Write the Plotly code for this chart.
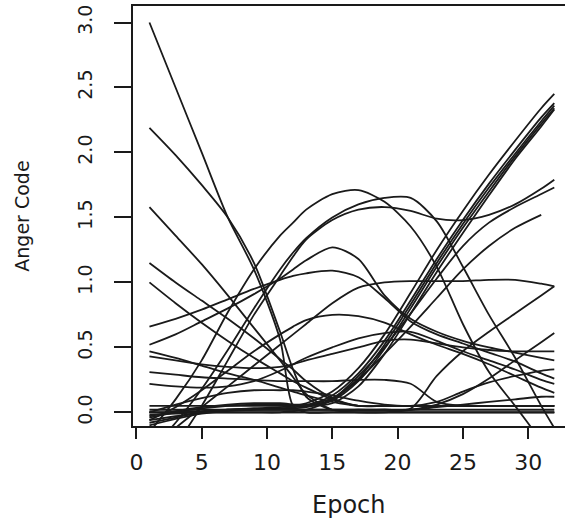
import plotly.graph_objects as go

# knots (Epoch) at which each subject's smoothed anger curve was read
EPOCHS = [1, 3, 5, 7, 9, 11, 12, 13, 15, 17, 19, 21, 23, 25, 27, 29, 31, 32]

s01 = [3.00, 2.50, 2.00, 1.50, 1.10, 0.56, 0.05, 0.00, 0.00, 0.00, 0.00, 0.00, 0.00, 0.00, 0.00, 0.00, 0.00, 0.00]
s02 = [2.19, 1.98, 1.75, 1.50, 1.15, 0.62, 0.33, 0.12, 0.02, 0.02, 0.02, 0.02, 0.02, 0.02, 0.02, 0.02, 0.02, 0.02]
s03 = [1.58, 1.36, 1.14, 0.90, 0.65, 0.40, 0.27, 0.14, 0.02, 0.00, 0.00, 0.00, 0.00, 0.00, 0.00, 0.00, 0.00, 0.00]
s04 = [1.15, 1.00, 0.86, 0.72, 0.57, 0.41, 0.33, 0.24, 0.11, 0.05, 0.05, 0.05, 0.05, 0.05, 0.05, 0.05, 0.05, 0.05]
s05 = [1.00, 0.84, 0.69, 0.55, 0.42, 0.30, 0.24, 0.19, 0.10, 0.05, 0.05, 0.05, 0.05, 0.05, 0.05, 0.05, 0.05, 0.05]
s06 = [0.66, 0.72, 0.79, 0.87, 0.95, 1.02, 1.05, 1.07, 1.09, 1.04, 0.88, 0.70, 0.60, 0.53, 0.46, 0.39, 0.30, 0.26]
s07 = [0.52, 0.60, 0.70, 0.80, 0.91, 1.03, 1.10, 1.17, 1.27, 1.18, 0.90, 0.72, 0.62, 0.55, 0.50, 0.46, 0.42, 0.40]
s08 = [-0.06, 0.04, 0.17, 0.32, 0.47, 0.60, 0.66, 0.71, 0.75, 0.74, 0.69, 0.60, 0.52, 0.45, 0.37, 0.28, 0.19, 0.15]
s09 = [-0.30, -0.12, 0.04, 0.20, 0.36, 0.52, 0.60, 0.68, 0.84, 0.96, 1.00, 1.01, 1.01, 1.01, 1.02, 1.02, 0.99, 0.97]
s10 = [-0.30, -0.08, 0.18, 0.48, 0.80, 1.10, 1.23, 1.34, 1.50, 1.60, 1.65, 1.65, 1.47, 1.12, 0.75, 0.42, 0.05, -0.12]
s11 = [-0.15, 0.10, 0.40, 0.77, 1.10, 1.36, 1.46, 1.56, 1.68, 1.71, 1.62, 1.43, 1.12, 0.68, 0.31, 0.05, -0.22, -0.35]
s12 = [-0.50, -0.25, 0.05, 0.40, 0.75, 1.05, 1.20, 1.33, 1.48, 1.56, 1.58, 1.55, 1.49, 1.48, 1.52, 1.60, 1.72, 1.79]
s13 = [0.00, 0.00, 0.00, 0.00, 0.00, 0.00, 0.01, 0.02, 0.10, 0.28, 0.50, 0.76, 1.03, 1.28, 1.46, 1.58, 1.68, 1.73]
s14 = [0.05, 0.05, 0.05, 0.05, 0.05, 0.05, 0.05, 0.05, 0.10, 0.25, 0.45, 0.66, 0.88, 1.10, 1.28, 1.42, 1.52, None]
s15 = [-0.06, -0.03, 0.00, 0.02, 0.03, 0.04, 0.05, 0.07, 0.16, 0.34, 0.60, 0.92, 1.25, 1.55, 1.83, 2.09, 2.34, 2.45]
s16 = [-0.08, -0.04, 0.00, 0.02, 0.03, 0.03, 0.04, 0.05, 0.13, 0.30, 0.55, 0.86, 1.18, 1.48, 1.76, 2.02, 2.27, 2.38]
s17 = [-0.04, 0.00, 0.03, 0.05, 0.06, 0.06, 0.06, 0.06, 0.11, 0.26, 0.52, 0.83, 1.15, 1.45, 1.73, 1.99, 2.24, 2.36]
s18 = [-0.10, -0.05, -0.01, 0.01, 0.02, 0.03, 0.03, 0.04, 0.09, 0.24, 0.49, 0.80, 1.12, 1.42, 1.70, 1.97, 2.22, 2.34]
s19 = [-0.03, 0.01, 0.04, 0.06, 0.07, 0.07, 0.06, 0.05, 0.07, 0.20, 0.45, 0.76, 1.08, 1.38, 1.67, 1.95, 2.20, 2.33]
s20 = [0.00, 0.06, 0.11, 0.15, 0.17, 0.17, 0.17, 0.16, 0.13, 0.09, 0.06, 0.05, 0.08, 0.16, 0.23, 0.28, 0.32, 0.33]
s21 = [0.31, 0.29, 0.27, 0.26, 0.25, 0.24, 0.24, 0.24, 0.24, 0.25, 0.25, 0.22, 0.08, 0.05, 0.05, 0.05, 0.05, 0.05]
s22 = [0.02, 0.02, 0.02, 0.02, 0.02, 0.02, 0.02, 0.02, 0.02, 0.02, 0.02, 0.03, 0.28, 0.47, 0.62, 0.76, 0.90, 0.97]
s23 = [0.00, 0.00, 0.00, 0.00, 0.00, 0.00, 0.00, 0.00, 0.00, 0.00, 0.00, 0.02, 0.06, 0.14, 0.26, 0.40, 0.54, 0.61]
s24 = [0.22, 0.20, 0.19, 0.20, 0.24, 0.32, 0.37, 0.42, 0.50, 0.57, 0.61, 0.62, 0.55, 0.47, 0.40, 0.33, 0.25, 0.22]
s25 = [0.47, 0.42, 0.36, 0.30, 0.25, 0.19, 0.16, 0.13, 0.08, 0.05, 0.05, 0.05, 0.05, 0.05, 0.05, 0.05, 0.05, 0.05]
s26 = [0.43, 0.40, 0.37, 0.35, 0.34, 0.35, 0.37, 0.40, 0.45, 0.50, 0.55, 0.56, 0.53, 0.50, 0.48, 0.47, 0.47, 0.47]
s27 = [0.00, 0.00, 0.01, 0.02, 0.02, 0.02, 0.02, 0.02, 0.02, 0.02, 0.02, 0.02, 0.04, 0.06, 0.08, 0.10, 0.12, 0.12]
s28 = [-0.02, -0.01, 0.00, 0.00, 0.00, 0.00, 0.00, 0.00, 0.00, 0.00, 0.00, 0.00, 0.00, 0.00, 0.00, 0.00, 0.00, 0.00]

SUBJECTS = [s01, s02, s03, s04, s05, s06, s07, s08, s09, s10, s11, s12, s13, s14,
            s15, s16, s17, s18, s19, s20, s21, s22, s23, s24, s25, s26, s27, s28]

X_TICKS = [0, 5, 10, 15, 20, 25, 30]
Y_TICKS = [0, 0.5, 1, 1.5, 2, 2.5, 3]
Y_TICK_TEXT = ["0.0", "0.5", "1.0", "1.5", "2.0", "2.5", "3.0"]

INK = "#1a1a1a"

fig = go.Figure()
for ys in SUBJECTS:
    fig.add_trace(go.Scatter(
        x=EPOCHS, y=ys, mode="lines",
        line=dict(color=INK, width=1.8, shape="spline", smoothing=0.8),
        hoverinfo="skip", showlegend=False))

fig.update_layout(
    width=565, height=519,
    margin=dict(l=133, r=0, t=6, b=93),
    plot_bgcolor="white", paper_bgcolor="white",
    showlegend=False,
    annotations=[
        dict(text="Anger Code", xref="paper", yref="paper", x=-0.2576, y=0.5,
             xanchor="center", yanchor="middle", textangle=-90, showarrow=False,
             font=dict(family="DejaVu Sans", size=19, color=INK)),
        dict(text="Epoch", xref="paper", yref="paper", x=0.5, y=-0.188,
             xanchor="center", yanchor="middle", showarrow=False,
             font=dict(family="DejaVu Sans", size=24, color=INK)),
    ],
)
fig.update_xaxes(
    range=[-0.26, 32.82], tickmode="array", tickvals=X_TICKS,
    ticks="outside", ticklen=11, tickwidth=2, tickcolor=INK,
    showline=True, linewidth=2, linecolor=INK, mirror=True,
    showgrid=False, zeroline=False, ticklabelstandoff=5,
    tickfont=dict(family="DejaVu Sans", size=22, color=INK))
fig.update_yaxes(
    range=[-0.105, 3.127], tickmode="array", tickvals=Y_TICKS, ticktext=Y_TICK_TEXT,
    tickangle=-90, ticks="outside", ticklen=17, tickwidth=2, tickcolor=INK,
    showline=True, linewidth=2, linecolor=INK, mirror=False,
    showgrid=False, zeroline=False, ticklabelstandoff=14,
    tickfont=dict(family="DejaVu Sans", size=19, color=INK))

fig.write_html("out.html")
